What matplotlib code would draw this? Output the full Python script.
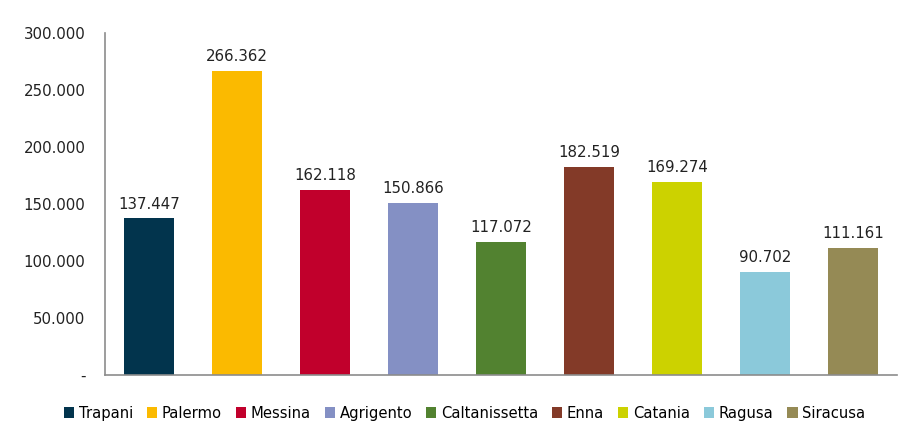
import numpy as np
import matplotlib.pyplot as plt
from matplotlib.patches import Patch

plt.rcParams['font.family'] = ['DejaVu Sans']

province = ['Trapani', 'Palermo', 'Messina', 'Agrigento', 'Caltanissetta',
            'Enna', 'Catania', 'Ragusa', 'Siracusa']
valori = [137447, 266362, 162118, 150866, 117072, 182519, 169274, 90702, 111161]
colori = ['#02344d', '#fbba00', '#c1002c', '#8490c4', '#528230',
          '#833a28', '#ccd200', '#8bc9da', '#958a55']
yticks = [0, 50000, 100000, 150000, 200000, 250000, 300000]


def fmt_it(v):
    # separatore delle migliaia con il punto
    return '{:,}'.format(v).replace(',', '.')


fig = plt.figure(figsize=(9.11, 4.22), dpi=100)
ax = fig.add_axes([0.115, 0.111, 0.87, 0.811])

x = np.arange(len(province))
ax.bar(x, valori, width=0.57, color=colori)
for xi, v in zip(x, valori):
    ax.text(xi, v + 6000, fmt_it(v), ha='center', va='bottom',
            fontsize=10.8, color='#222222')

ax.set_xlim(-0.5, len(province) - 0.5)
ax.set_ylim(0, 300000)
ax.set_yticks(yticks)
ax.set_yticklabels(['-'] + [fmt_it(t) for t in yticks[1:]])
ax.set_xticks([])
ax.tick_params(axis='y', length=0, pad=14, labelsize=10.8, labelcolor='#222222')

for s in ['top', 'right']:
    ax.spines[s].set_visible(False)
for s in ['left', 'bottom']:
    ax.spines[s].set_color('#8c8c8c')
    ax.spines[s].set_linewidth(1.2)

handles = [Patch(facecolor=c, label=p) for p, c in zip(province, colori)]
fig.legend(handles=handles, loc='lower center', bbox_to_anchor=(0.51, 0.0),
           ncol=len(province), frameon=False, fontsize=10.6,
           handlelength=0.7, handleheight=0.7, handletextpad=0.3,
           columnspacing=0.95, borderaxespad=0.0, borderpad=0.1)

fig.savefig('out.png', dpi=100)
